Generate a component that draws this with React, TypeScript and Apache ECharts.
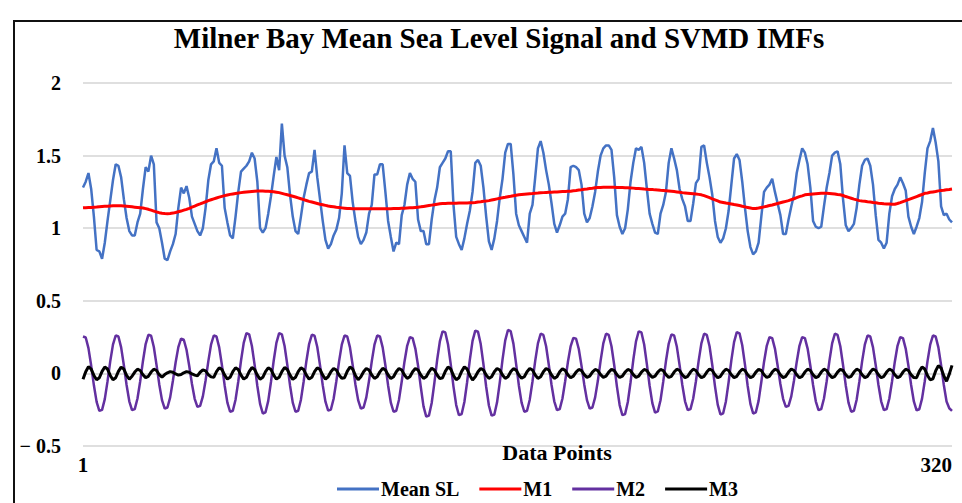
import React, { useEffect, useRef } from "react";
import * as echarts from "echarts";

const TITLE = "Milner Bay Mean Sea Level Signal and SVMD IMFs";
const X_NAME = "Data Points";
const SERIES_NAMES = ["Mean SL", "M1", "M2", "M3"];
const SERIES_COLORS = ["#4472C4", "#FF0000", "#6330A0", "#000000"];
const Y_MIN = -0.5;
const Y_MAX = 2;
const Y_STEP = 0.5;

const meanSL = [
  1.28, 1.32, 1.38, 1.27, 1.08, 0.85, 0.84, 0.79, 0.90, 1.05,
  1.19, 1.33, 1.44, 1.43, 1.35, 1.20, 1.07, 0.98, 0.95, 0.95,
  1.04, 1.10, 1.27, 1.42, 1.39, 1.50, 1.44, 1.04, 1.00, 0.90,
  0.79, 0.78, 0.84, 0.89, 0.96, 1.14, 1.28, 1.24, 1.29, 1.21,
  1.08, 1.03, 0.98, 0.95, 1.00, 1.14, 1.33, 1.44, 1.46, 1.55,
  1.45, 1.43, 1.14, 1.04, 0.95, 0.93, 1.08, 1.25, 1.39, 1.41,
  1.43, 1.46, 1.52, 1.48, 1.32, 1.00, 0.97, 1.00, 1.10, 1.22,
  1.36, 1.49, 1.40, 1.72, 1.50, 1.42, 1.23, 1.08, 0.98, 0.96,
  1.08, 1.21, 1.30, 1.38, 1.39, 1.54, 1.35, 1.20, 1.05, 0.92,
  0.86, 0.89, 0.95, 0.99, 1.07, 1.24, 1.57, 1.38, 1.36, 1.18,
  1.05, 0.94, 0.89, 0.92, 0.97, 1.10, 1.16, 1.37, 1.37, 1.44,
  1.44, 1.25, 1.05, 0.94, 0.84, 0.90, 0.89, 1.09, 1.16, 1.30,
  1.38, 1.34, 1.32, 1.06, 0.98, 0.98, 0.89, 0.89, 1.06, 1.19,
  1.28, 1.42, 1.45, 1.48, 1.53, 1.53, 1.16, 0.94, 0.89, 0.85,
  0.93, 1.03, 1.12, 1.25, 1.45, 1.47, 1.43, 1.28, 1.08, 0.91,
  0.85, 0.93, 1.05, 1.21, 1.34, 1.52, 1.58, 1.58, 1.37, 1.10,
  1.02, 0.98, 0.94, 0.90, 1.10, 1.16, 1.35, 1.55, 1.60, 1.52,
  1.40, 1.30, 1.17, 1.03, 0.97, 1.02, 1.08, 1.10, 1.20, 1.42,
  1.43, 1.42, 1.40, 1.30, 1.10, 1.04, 1.07, 1.15, 1.25, 1.39,
  1.50, 1.55, 1.57, 1.57, 1.54, 1.35, 1.09, 1.01, 0.96, 1.00,
  1.13, 1.32, 1.45, 1.55, 1.54, 1.56, 1.45, 1.27, 1.10, 1.03,
  0.97, 0.96, 1.10, 1.16, 1.25, 1.45, 1.55, 1.48, 1.40, 1.27,
  1.20, 1.15, 1.05, 1.05, 1.17, 1.31, 1.34, 1.56, 1.57, 1.45,
  1.35, 1.23, 1.05, 0.94, 0.90, 0.93, 1.00, 1.12, 1.30, 1.48,
  1.51, 1.47, 1.32, 1.14, 0.98, 0.87, 0.82, 0.84, 0.90, 1.08,
  1.25, 1.28, 1.30, 1.34, 1.25, 1.17, 1.09, 0.96, 0.96, 1.06,
  1.15, 1.23, 1.38, 1.47, 1.55, 1.52, 1.44, 1.28, 1.05, 1.01,
  1.00, 1.01, 1.15, 1.28, 1.38, 1.50, 1.52, 1.53, 1.44, 1.20,
  1.02, 0.98, 1.00, 1.03, 1.14, 1.30, 1.43, 1.47, 1.48, 1.43,
  1.30, 1.09, 0.92, 0.90, 0.86, 0.90, 1.10, 1.22, 1.27, 1.30,
  1.35, 1.31, 1.26, 1.08, 1.01, 0.96, 1.01, 1.07, 1.18, 1.38,
  1.55, 1.60, 1.69, 1.59, 1.46, 1.15, 1.09, 1.10, 1.06, 1.04,
];

const m1 = [
  1.140, 1.141, 1.142, 1.143, 1.145, 1.146, 1.148, 1.150, 1.151, 1.152, 1.153, 1.154, 1.155, 1.155,
  1.154, 1.153, 1.151, 1.149, 1.147, 1.145, 1.143, 1.141, 1.139,
  1.135, 1.130, 1.124, 1.118, 1.112, 1.107, 1.103, 1.101, 1.100,
  1.101, 1.104, 1.108, 1.113, 1.118, 1.124, 1.130,
  1.137, 1.145, 1.152, 1.160, 1.167, 1.175, 1.182, 1.190,
  1.196, 1.202, 1.208, 1.214, 1.219, 1.224, 1.229,
  1.233, 1.236, 1.239, 1.242, 1.245,
  1.247, 1.249, 1.251, 1.253, 1.255,
  1.256, 1.256, 1.256, 1.255, 1.254, 1.253, 1.251, 1.248, 1.245,
  1.240, 1.235, 1.230, 1.225, 1.220, 1.215,
  1.209, 1.203, 1.197, 1.191, 1.185, 1.180,
  1.175, 1.170, 1.165, 1.161, 1.157, 1.153, 1.150,
  1.147, 1.144, 1.142, 1.140, 1.138, 1.136,
  1.135, 1.134, 1.134, 1.134, 1.134, 1.134, 1.134, 1.134, 1.134, 1.134, 1.134, 1.134,
  1.134, 1.134, 1.134, 1.134, 1.135, 1.135, 1.136, 1.137, 1.138, 1.139, 1.140, 1.141,
  1.143, 1.145, 1.147, 1.150,
  1.153, 1.156, 1.159, 1.162, 1.165, 1.168, 1.170,
  1.170, 1.171, 1.171, 1.172, 1.172, 1.173, 1.173, 1.174, 1.174, 1.175, 1.175,
  1.177, 1.180, 1.182, 1.185, 1.187, 1.190,
  1.194, 1.198, 1.202, 1.206, 1.210,
  1.213, 1.217, 1.220, 1.224, 1.227, 1.230,
  1.232, 1.234, 1.236, 1.238, 1.239, 1.241, 1.242, 1.244, 1.245,
  1.246, 1.247, 1.248, 1.249, 1.250, 1.251, 1.252, 1.253, 1.254, 1.255,
  1.258, 1.260, 1.263, 1.265, 1.268, 1.270, 1.273, 1.275, 1.278, 1.280,
  1.281, 1.282, 1.282, 1.282, 1.282, 1.282, 1.281, 1.281, 1.280,
  1.279, 1.278, 1.277, 1.276, 1.274, 1.273, 1.272, 1.270,
  1.269, 1.267, 1.266, 1.264, 1.263, 1.261, 1.260,
  1.258, 1.256, 1.254, 1.252, 1.250, 1.248, 1.245,
  1.243, 1.241, 1.239, 1.237, 1.235, 1.233, 1.230,
  1.224, 1.217, 1.210, 1.202, 1.195, 1.188, 1.180,
  1.177, 1.173, 1.170, 1.167, 1.163, 1.160,
  1.156, 1.151, 1.147, 1.143, 1.139, 1.135,
  1.136, 1.139, 1.143, 1.147, 1.151, 1.156, 1.160,
  1.165, 1.170, 1.175, 1.180, 1.185, 1.190,
  1.197, 1.203, 1.210, 1.217, 1.223, 1.230,
  1.232, 1.234, 1.236, 1.238, 1.239, 1.240,
  1.240, 1.240, 1.239, 1.237, 1.235, 1.232, 1.230,
  1.225, 1.218, 1.212, 1.206, 1.200, 1.195, 1.190,
  1.187, 1.185, 1.182, 1.180, 1.177, 1.175, 1.172, 1.170,
  1.168, 1.167, 1.166, 1.165, 1.165,
  1.170, 1.176, 1.183, 1.190,
  1.197, 1.204, 1.211, 1.218, 1.225, 1.232, 1.240,
  1.243, 1.247, 1.250, 1.253, 1.257, 1.260,
  1.262, 1.265, 1.267, 1.270,
];

const m2 = [
  0.254, 0.247, 0.174, 0.054, -0.082, -0.196, -0.258, -0.251, -0.177, -0.055, 0.083, 0.198,
  0.261, 0.254, 0.179, 0.056, -0.080, -0.192, -0.253, -0.246, -0.173, -0.054, 0.084, 0.202,
  0.266, 0.259, 0.182, 0.057, -0.076, -0.184, -0.242, -0.235, -0.165, -0.051, 0.075, 0.181,
  0.239, 0.232, 0.163, 0.051, -0.073, -0.175, -0.231, -0.224, -0.158, -0.049, 0.083, 0.198,
  0.261, 0.254, 0.179, 0.056, -0.083, -0.201, -0.264, -0.257, -0.181, -0.056, 0.087, 0.210,
  0.277, 0.269, 0.189, 0.059, -0.087, -0.210, -0.276, -0.268, -0.189, -0.059, 0.087, 0.210,
  0.277, 0.269, 0.189, 0.059, -0.083, -0.201, -0.264, -0.257, -0.181, -0.056, 0.084, 0.202,
  0.266, 0.259, 0.182, 0.057, -0.081, -0.195, -0.256, -0.249, -0.175, -0.054, 0.083, 0.198,
  0.261, 0.254, 0.179, 0.056, -0.076, -0.184, -0.242, -0.235, -0.165, -0.051, 0.083, 0.198,
  0.261, 0.254, 0.179, 0.056, -0.083, -0.201, -0.264, -0.257, -0.181, -0.056, 0.079, 0.190,
  0.250, 0.243, 0.171, 0.053, -0.094, -0.227, -0.298, -0.290, -0.204, -0.063, 0.092, 0.221,
  0.290, 0.282, 0.199, 0.062, -0.091, -0.218, -0.288, -0.280, -0.197, -0.061, 0.093, 0.224,
  0.295, 0.287, 0.202, 0.063, -0.092, -0.221, -0.291, -0.283, -0.199, -0.062, 0.095, 0.227,
  0.299, 0.291, 0.205, 0.064, -0.083, -0.201, -0.264, -0.257, -0.181, -0.056, 0.086, 0.207,
  0.273, 0.265, 0.187, 0.058, -0.080, -0.192, -0.253, -0.246, -0.173, -0.054, 0.078, 0.186,
  0.245, 0.239, 0.168, 0.052, -0.076, -0.184, -0.242, -0.235, -0.165, -0.051, 0.086, 0.207,
  0.273, 0.265, 0.187, 0.058, -0.091, -0.218, -0.288, -0.280, -0.197, -0.061, 0.092, 0.221,
  0.290, 0.282, 0.199, 0.062, -0.085, -0.205, -0.270, -0.262, -0.185, -0.057, 0.085, 0.204,
  0.268, 0.261, 0.183, 0.057, -0.080, -0.192, -0.253, -0.246, -0.173, -0.054, 0.086, 0.207,
  0.273, 0.265, 0.187, 0.058, -0.089, -0.215, -0.283, -0.275, -0.193, -0.060, 0.090, 0.215,
  0.284, 0.276, 0.194, 0.060, -0.087, -0.210, -0.276, -0.268, -0.189, -0.059, 0.079, 0.190,
  0.250, 0.243, 0.171, 0.053, -0.073, -0.175, -0.231, -0.224, -0.158, -0.049, 0.079, 0.190,
  0.250, 0.243, 0.171, 0.053, -0.080, -0.192, -0.253, -0.246, -0.173, -0.054, 0.086, 0.207,
  0.273, 0.265, 0.187, 0.058, -0.083, -0.201, -0.264, -0.257, -0.181, -0.056, 0.083, 0.198,
  0.261, 0.254, 0.179, 0.056, -0.080, -0.192, -0.253, -0.246, -0.173, -0.054, 0.079, 0.190,
  0.250, 0.243, 0.171, 0.053, -0.080, -0.193, -0.254, -0.247, -0.174, -0.054, 0.083, 0.198,
  0.261, 0.254, 0.179, 0.056, -0.080, -0.193, -0.240, -0.258,
];

const m3 = [
  -0.040, 0.012, 0.046, 0.030, -0.014, -0.044,
  -0.030, 0.014, 0.044, 0.030, -0.014, -0.044,
  -0.030, 0.014, 0.043, 0.030, -0.014, -0.040,
  -0.020, 0.009, 0.029, 0.020, -0.009, -0.029,
  -0.020, 0.009, 0.029, 0.020, -0.009, -0.026,
  -0.008, 0.004, 0.012, 0.008, -0.004, -0.012,
  -0.008, 0.004, 0.012, 0.008, -0.004, -0.012,
  -0.017, 0.008, 0.024, 0.017, -0.008, -0.024,
  -0.027, 0.012, 0.039, 0.027, -0.012, -0.039,
  -0.027, 0.012, 0.039, 0.027, -0.012, -0.039,
  -0.027, 0.012, 0.040, 0.027, -0.012, -0.040,
  -0.027, 0.012, 0.039, 0.027, -0.012, -0.039,
  -0.027, 0.012, 0.041, 0.027, -0.012, -0.041,
  -0.027, 0.012, 0.039, 0.027, -0.012, -0.039,
  -0.027, 0.012, 0.039, 0.027, -0.012, -0.039,
  -0.023, 0.011, 0.034, 0.023, -0.011, -0.034,
  -0.030, 0.014, 0.044, 0.030, -0.014, -0.044,
  -0.023, 0.011, 0.034, 0.023, -0.011, -0.034,
  -0.023, 0.011, 0.035, 0.023, -0.011, -0.035,
  -0.023, 0.011, 0.034, 0.023, -0.011, -0.034,
  -0.023, 0.011, 0.034, 0.023, -0.011, -0.034,
  -0.023, 0.011, 0.036, 0.023, -0.011, -0.036,
  -0.030, 0.014, 0.044, 0.030, -0.014, -0.044,
  -0.030, 0.014, 0.045, 0.030, -0.014, -0.045,
  -0.023, 0.011, 0.034, 0.023, -0.011, -0.034,
  -0.023, 0.011, 0.034, 0.023, -0.011, -0.034,
  -0.023, 0.011, 0.033, 0.023, -0.011, -0.033,
  -0.023, 0.011, 0.034, 0.023, -0.011, -0.034,
  -0.023, 0.011, 0.034, 0.023, -0.011, -0.034,
  -0.023, 0.011, 0.032, 0.021, -0.010, -0.030,
  -0.019, 0.009, 0.027, 0.019, -0.009, -0.027,
  -0.019, 0.009, 0.027, 0.019, -0.009, -0.027,
  -0.019, 0.009, 0.028, 0.019, -0.009, -0.028,
  -0.019, 0.009, 0.027, 0.019, -0.009, -0.027,
  -0.019, 0.009, 0.027, 0.019, -0.009, -0.027,
  -0.019, 0.009, 0.027, 0.019, -0.009, -0.027,
  -0.020, 0.009, 0.029, 0.020, -0.009, -0.029,
  -0.020, 0.009, 0.029, 0.020, -0.009, -0.029,
  -0.020, 0.009, 0.030, 0.020, -0.009, -0.030,
  -0.020, 0.009, 0.029, 0.020, -0.009, -0.029,
  -0.020, 0.009, 0.029, 0.020, -0.009, -0.029,
  -0.020, 0.009, 0.028, 0.020, -0.009, -0.028,
  -0.020, 0.009, 0.029, 0.020, -0.009, -0.029,
  -0.020, 0.009, 0.030, 0.020, -0.009, -0.030,
  -0.020, 0.009, 0.029, 0.020, -0.009, -0.029,
  -0.020, 0.009, 0.029, 0.020, -0.009, -0.029,
  -0.020, 0.009, 0.028, 0.020, -0.009, -0.028,
  -0.020, 0.009, 0.029, 0.020, -0.009, -0.029,
  -0.020, 0.009, 0.030, 0.020, -0.009, -0.030,
  -0.020, 0.009, 0.029, 0.020, -0.009, -0.029,
  -0.020, 0.009, 0.029, 0.020, -0.009, -0.029,
  -0.030, 0.014, 0.044, 0.030, -0.014, -0.044,
  -0.037, 0.017, 0.054, 0.037, -0.017, -0.054,
  -0.005, 0.055,
];

const seriesData = [meanSL, m1, m2, m3];
const categories = meanSL.map((_, i) => String(i + 1));

const FONT = "'Liberation Serif', 'Times New Roman', serif";

export default function App() {
  const ref = useRef<HTMLDivElement>(null);

  useEffect(() => {
    if (!ref.current) return;
    const chart = echarts.init(ref.current, null, { renderer: "svg" });
    const lastIndex = categories.length - 1;
    chart.setOption({
      animation: false,
      backgroundColor: "#ffffff",
      graphic: [
        {
          type: "rect",
          shape: { x: 14, y: 21, width: 1000, height: 600 },
          style: { fill: "none", stroke: "#111", lineWidth: 2 },
          silent: true,
          z: 0,
        },
        {
          type: "text",
          x: 499,
          y: 38,
          style: {
            text: TITLE,
            fontFamily: FONT,
            fontWeight: "bold",
            fontSize: 29,
            fill: "#000",
            textAlign: "center",
            textVerticalAlign: "middle",
          },
          z: 10,
        },
        {
          type: "text",
          x: 557,
          y: 452,
          style: {
            text: X_NAME,
            fontFamily: FONT,
            fontWeight: "bold",
            fontSize: 22,
            fill: "#000",
            textAlign: "center",
            textVerticalAlign: "middle",
          },
          z: 10,
        },
      ],
      grid: { left: 83, right: 10, top: 83, bottom: 57, containLabel: false },
      legend: {
        data: SERIES_NAMES,
        left: 337,
        top: 479,
        icon: "rect",
        itemWidth: 42,
        itemHeight: 3,
        itemGap: 20,
        padding: 0,
        textStyle: { fontFamily: FONT, fontWeight: "bold", fontSize: 20, color: "#000", padding: [0, 0, 0, -3] },
      },
      xAxis: {
        type: "category",
        data: categories,
        boundaryGap: false,
        axisLine: { show: false },
        axisTick: { show: false },
        splitLine: { show: false },
        axisLabel: {
          interval: (i: number) => i === 0 || i === lastIndex,
          showMinLabel: true,
          showMaxLabel: true,
          alignMaxLabel: "right",
          fontFamily: FONT,
          fontWeight: "bold",
          fontSize: 21,
          color: "#000",
          margin: 8,
        },
      },
      yAxis: {
        type: "value",
        min: Y_MIN,
        max: Y_MAX,
        interval: Y_STEP,
        axisLine: { show: false },
        axisTick: { show: false },
        splitLine: { lineStyle: { color: "#d4d4d4", width: 1.5 } },
        axisLabel: {
          fontFamily: FONT,
          fontWeight: "bold",
          fontSize: 20,
          color: "#000",
          margin: 22,
          formatter: (v: number) => (v < 0 ? "\u2212 " + Math.abs(v) : String(v)),
        },
      },
      series: SERIES_NAMES.map((name, k) => ({
        name,
        type: "line",
        data: seriesData[k],
        symbol: "none",
        color: SERIES_COLORS[k],
        lineStyle: { color: SERIES_COLORS[k], width: k === 1 || k === 3 ? 3 : 2.5 },
        z: 2 + k,
      })),
    });
    return () => chart.dispose();
  }, []);

  return (
    <div
      ref={ref}
      style={{ position: "fixed", left: 0, top: 0, width: 962, height: 503, background: "#fff" }}
    />
  );
}
